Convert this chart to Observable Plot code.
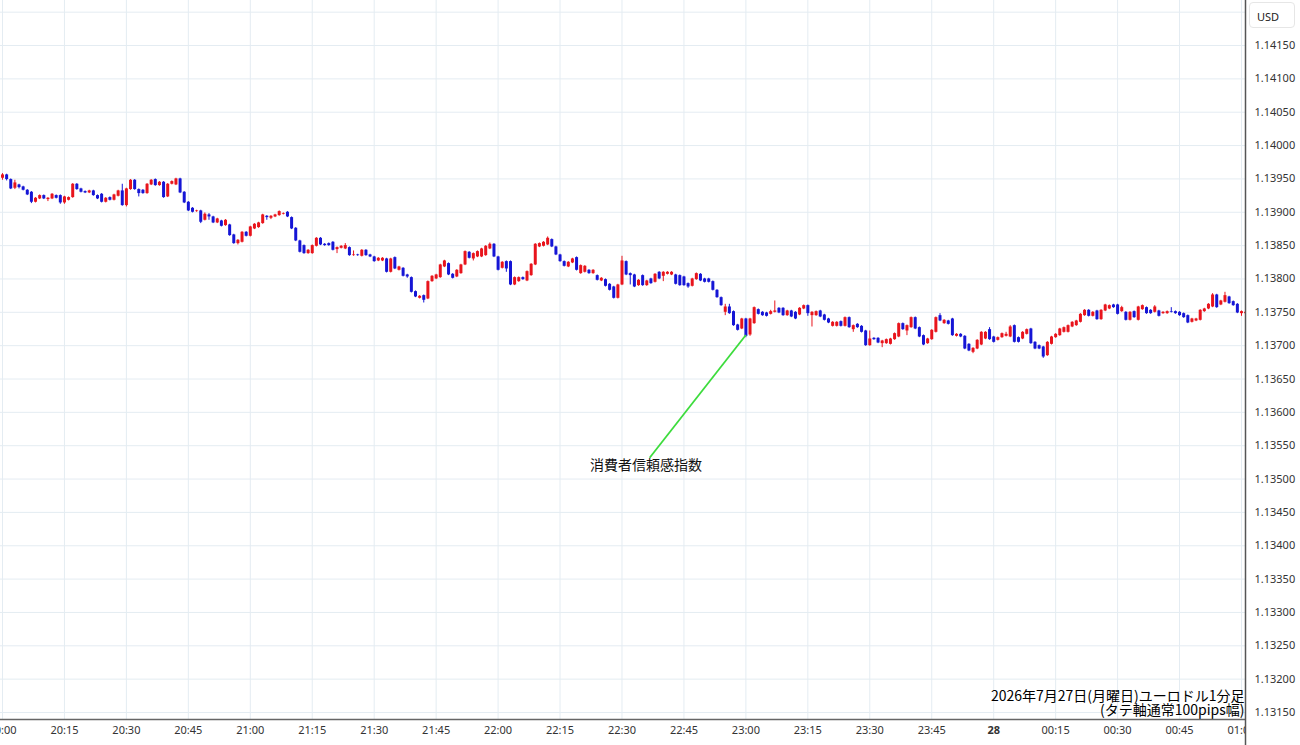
<!DOCTYPE html>
<html>
<head>
<meta charset="utf-8">
<script src="https://cdn.jsdelivr.net/npm/d3@7"></script>
<script src="https://cdn.jsdelivr.net/npm/@observablehq/plot@0.6"></script>
<style>
  body { margin: 0; background: #fff; }
  #wrap { position: relative; width: 1300px; height: 745px; overflow: hidden; }
  #usd { position: absolute; left: 1249px; top: 2px; width: 46px; height: 26px; box-sizing: border-box;
         border: 1px solid #e6e6e6; border-radius: 4px; background: #fff;
         font: 11px "Noto Sans", sans-serif; color: #222; padding: 6px 0 0 7px; }
</style>
</head>
<body>
<div id="wrap"><div id="usd">USD</div></div>
<script>
// Prices in points above 1.13000 (e.g. 955 = 1.13955); one candle per minute from 20:00
const startTime = "20:00";
const opens = [
951,956,949,936,941,938,933,930,915,920,
925,919,920,925,925,914,918,922,942,935,
931,929,932,925,927,915,922,918,924,932,
910,934,948,934,933,928,941,949,940,945,
923,942,941,950,930,915,906,901,902,888,
896,893,884,887,880,881,866,853,855,870,
864,875,877,883,894,891,893,895,897,900,
892,876,857,850,838,838,849,861,852,853,
855,844,846,845,847,835,836,834,843,836,
833,827,827,830,810,832,813,816,806,802,
781,771,775,770,796,800,802,818,823,807,
803,808,821,840,830,833,833,835,845,852,
833,816,826,826,791,796,802,797,805,821,
848,849,851,859,848,836,826,818,824,832,
808,810,813,808,805,797,799,792,788,771,
791,826,808,806,790,805,790,800,795,810,
804,807,806,806,805,803,793,789,799,807,
800,800,796,783,772,750,758,751,731,725,
740,716,733,754,750,749,747,750,756,756,
745,752,750,746,755,760,745,745,752,746,
740,729,729,736,729,742,724,732,729,722,
700,711,711,703,703,702,709,713,733,722,
727,742,727,715,703,709,720,745,733,737,
740,714,717,714,702,690,695,701,710,724,
713,708,712,714,713,730,712,710,717,725,
705,700,698,685,702,712,715,720,720,728,
730,735,745,753,744,752,739,752,755,761,
761,751,750,738,751,738,754,757,753,750,
752,748,748,751,751,750,748,745,735,737,
738,751,755,758,776,761,765,773,766,762,
748,748];
const closes = [
956,949,935,944,937,933,926,915,921,925,
920,921,927,921,914,923,922,942,934,930,
929,932,925,920,915,921,918,926,932,910,
935,948,934,928,928,942,948,940,945,922,
942,946,950,929,914,902,900,902,885,897,
893,884,890,879,888,865,853,858,870,864,
878,882,884,896,892,894,896,901,898,893,
875,857,840,838,843,850,861,851,850,850,
843,847,849,850,835,836,835,843,835,833,
826,831,831,810,830,815,818,804,803,780,
773,774,768,796,804,806,821,827,806,801,
813,821,841,831,838,841,845,849,852,833,
813,825,815,791,802,802,799,811,822,852,
853,855,861,848,836,826,819,825,830,813,
820,819,808,813,798,801,789,783,771,791,
827,806,805,788,798,790,797,793,807,800,
810,810,810,792,790,790,788,800,808,797,
795,795,783,772,760,758,748,730,723,740,
714,740,757,747,745,744,751,752,749,745,
752,743,740,756,760,748,750,751,743,738,
734,735,735,729,742,727,730,727,720,700,
710,709,704,707,709,710,718,733,724,730,
742,725,713,701,710,723,742,737,738,732,
715,717,713,695,692,696,708,720,720,709,
705,712,718,717,728,705,705,720,724,703,
695,695,683,705,713,717,725,727,730,735,
737,747,753,744,750,739,753,761,760,757,
747,757,738,750,742,758,760,748,748,758,
744,750,751,750,748,745,742,734,740,740,
753,755,762,776,757,767,775,763,760,749,
751,750];
const highs = [
958,957,950,948,942,939,934,931,922,926,
926,922,928,926,926,924,923,943,943,936,
932,933,933,926,928,922,923,927,933,942,
936,949,949,935,934,943,949,950,946,946,
943,947,951,951,931,916,907,903,903,899,
898,894,891,888,889,882,867,859,871,871,
879,883,885,897,895,895,897,902,899,901,
893,877,858,851,844,851,862,862,853,854,
856,848,850,853,848,842,837,844,844,837,
834,832,832,831,831,833,819,817,807,803,
782,775,776,797,805,807,822,828,824,808,
814,822,842,841,839,842,846,850,854,853,
834,826,827,827,803,803,803,812,823,853,
854,856,863,860,849,837,827,826,831,833,
821,820,814,814,806,802,800,793,789,792,
834,827,809,807,799,806,798,801,808,811,
811,811,811,807,806,804,794,801,809,808,
801,801,797,784,773,762,762,752,732,741,
741,741,758,755,751,750,753,767,757,757,
753,753,751,757,761,761,751,752,753,747,
741,736,736,737,743,743,731,733,730,723,
722,712,712,708,710,711,719,734,734,731,
743,743,728,716,711,724,743,748,739,738,
741,718,718,715,703,697,709,721,721,727,
714,713,719,720,730,731,713,721,725,726,
706,701,699,706,714,718,726,728,731,736,
738,748,754,754,751,753,754,762,761,762,
762,759,751,751,752,759,761,758,754,760,
753,751,752,757,752,751,749,746,741,741,
754,756,763,778,777,768,780,774,767,763,
752,751];
const lows = [
948,947,934,934,935,932,925,913,914,919,
919,916,919,920,912,912,917,921,933,929,
928,928,924,919,914,914,917,917,923,909,
908,933,933,923,927,927,940,939,939,921,
922,941,940,928,913,901,899,900,883,887,
888,883,883,878,879,864,852,851,854,863,
863,874,876,882,888,889,892,894,896,892,
874,856,839,837,837,837,848,850,849,849,
842,838,845,844,834,834,834,833,834,832,
825,826,826,809,809,814,812,803,801,779,
772,770,764,769,795,799,801,817,805,800,
802,807,820,830,827,832,832,834,844,832,
812,815,810,790,790,795,798,796,804,820,
847,848,850,847,835,825,818,817,823,812,
807,809,807,807,797,796,788,782,770,770,
790,805,791,787,789,789,789,792,794,799,
796,806,805,791,789,789,786,788,798,796,
794,794,782,771,759,745,747,729,722,724,
712,714,732,746,744,743,746,749,748,744,
744,742,739,745,754,744,728,744,742,737,
733,728,728,728,728,726,720,726,719,699,
699,708,703,697,702,701,708,712,723,715,
726,724,712,700,702,708,719,736,732,731,
714,713,712,694,691,688,694,700,709,708,
704,707,711,713,712,704,704,709,716,702,
694,694,681,684,701,711,714,719,719,727,
729,734,744,743,743,738,738,751,754,756,
746,750,737,737,741,737,753,747,747,749,
743,747,747,749,747,744,741,733,734,736,
737,750,754,757,756,760,764,762,759,748,
744,747];

// x-axis tick labels, every 15 minutes from 20:00
const timeLabels = ["20:00","20:15","20:30","20:45","21:00","21:15","21:30","21:45","22:00","22:15","22:30","22:45",
  "23:00","23:15","23:30","23:45","28","00:15","00:30","00:45","01:00"];
// y-axis tick labels
const priceTicks = ["1.13150","1.13200","1.13250","1.13300","1.13350","1.13400","1.13450","1.13500","1.13550","1.13600",
  "1.13650","1.13700","1.13750","1.13800","1.13850","1.13900","1.13950","1.14000","1.14050","1.14100","1.14150"];
const extraGrid = ["1.14200"];

// annotation (event) : candle at 23:00 and label position
const eventLabel = "消費者信頼感指数";
const eventFrom = {minute: 180, price: 1.13716};
const eventTo = {minute: 156.7, price: 1.13532};
const eventText = {minute: 155.8, price: 1.13520};

const captionLines = ["2026年7月27日(月曜日)ユーロドル1分足", "(タテ軸通常100pips幅)"];

const base = 1.13;
const P = v => base + v / 1e5;
const candles = opens.map((o, i) => ({m: i, o: P(o), c: P(closes[i]), h: P(highs[i]), l: P(lows[i])}));
const up = candles.filter(d => d.c >= d.o);
const down = candles.filter(d => d.c < d.o);
const tickMins = timeLabels.map((_, i) => i * 15);
const yTickVals = priceTicks.map(Number);
const gridY = yTickVals.concat(extraGrid.map(Number));

const RED = "#e8141c", BLUE = "#1515d5", GRID = "#e4ecf2";
const JP = "'Noto Sans CJK JP', sans-serif";

const chart = Plot.plot({
  width: 1300, height: 745,
  marginLeft: 0, marginRight: 55, marginTop: 0, marginBottom: 26,
  style: {fontFamily: "'Noto Sans', sans-serif", fontSize: "11px", color: "#333", background: "#fff", overflow: "visible"},
  x: {domain: [-0.484, 300.97], ticks: tickMins, tickFormat: d => timeLabels[Math.round(d / 15)], tickSize: 0, tickPadding: 7, label: null},
  y: {domain: [1.131395, 1.142175], axis: "right", ticks: yTickVals, tickFormat: d3.format(".5f"), tickSize: 0, tickPadding: 9, label: null},
  marks: [
    Plot.ruleY(gridY, {stroke: GRID, strokeWidth: 1}),
    Plot.ruleX(tickMins, {stroke: GRID, strokeWidth: 1}),
    Plot.ruleX(up, {x: "m", y1: "l", y2: "h", stroke: RED, strokeWidth: 1, clip: true}),
    Plot.ruleX(down, {x: "m", y1: "l", y2: "h", stroke: BLUE, strokeWidth: 1, clip: true}),
    Plot.ruleX(up, {x: "m", y1: "o", y2: "c", stroke: RED, strokeWidth: 3, clip: true}),
    Plot.ruleX(down, {x: "m", y1: "o", y2: "c", stroke: BLUE, strokeWidth: 3, clip: true}),
    Plot.link([0], {x1: () => eventFrom.minute, y1: () => eventFrom.price, x2: () => eventTo.minute, y2: () => eventTo.price,
      stroke: "#3ddc3d", strokeWidth: 1.8}),
    Plot.text([eventLabel], {x: () => eventText.minute, y: () => eventText.price, text: d => d,
      fontSize: 14, fill: "#111", fontFamily: JP}),
    Plot.text([captionLines[0]], {frameAnchor: "bottom-right", text: d => d, textAnchor: "end", lineAnchor: "bottom",
      dx: -1, dy: -19, fontSize: 14, fill: "#000", fontFamily: JP}),
    Plot.text([captionLines[1]], {frameAnchor: "bottom-right", text: d => d, textAnchor: "end", lineAnchor: "bottom",
      dx: -1, dy: -5, fontSize: 14, fill: "#000", fontFamily: JP}),
    Plot.ruleY([1.131395], {stroke: "#666", strokeWidth: 1.5}),
    Plot.ruleX([300.97], {stroke: "#555", strokeWidth: 1.5, insetBottom: -26})
  ]
});

document.getElementById("wrap").prepend(chart);

// clip x tick labels at the price-scale panel, bold the date label
const svg = d3.select(chart);
const defs = svg.insert("defs", ":first-child");
defs.append("clipPath").attr("id", "xclip").append("rect").attr("x", -10).attr("y", 0).attr("width", 1255).attr("height", 745);
svg.selectAll("text").each(function() {
  const t = this.textContent;
  if (timeLabels.includes(t)) {
    d3.select(this.parentNode).attr("clip-path", "url(#xclip)");
    if (t === "28") d3.select(this).attr("font-weight", "bold");
  }
});
</script>
</body>
</html>
